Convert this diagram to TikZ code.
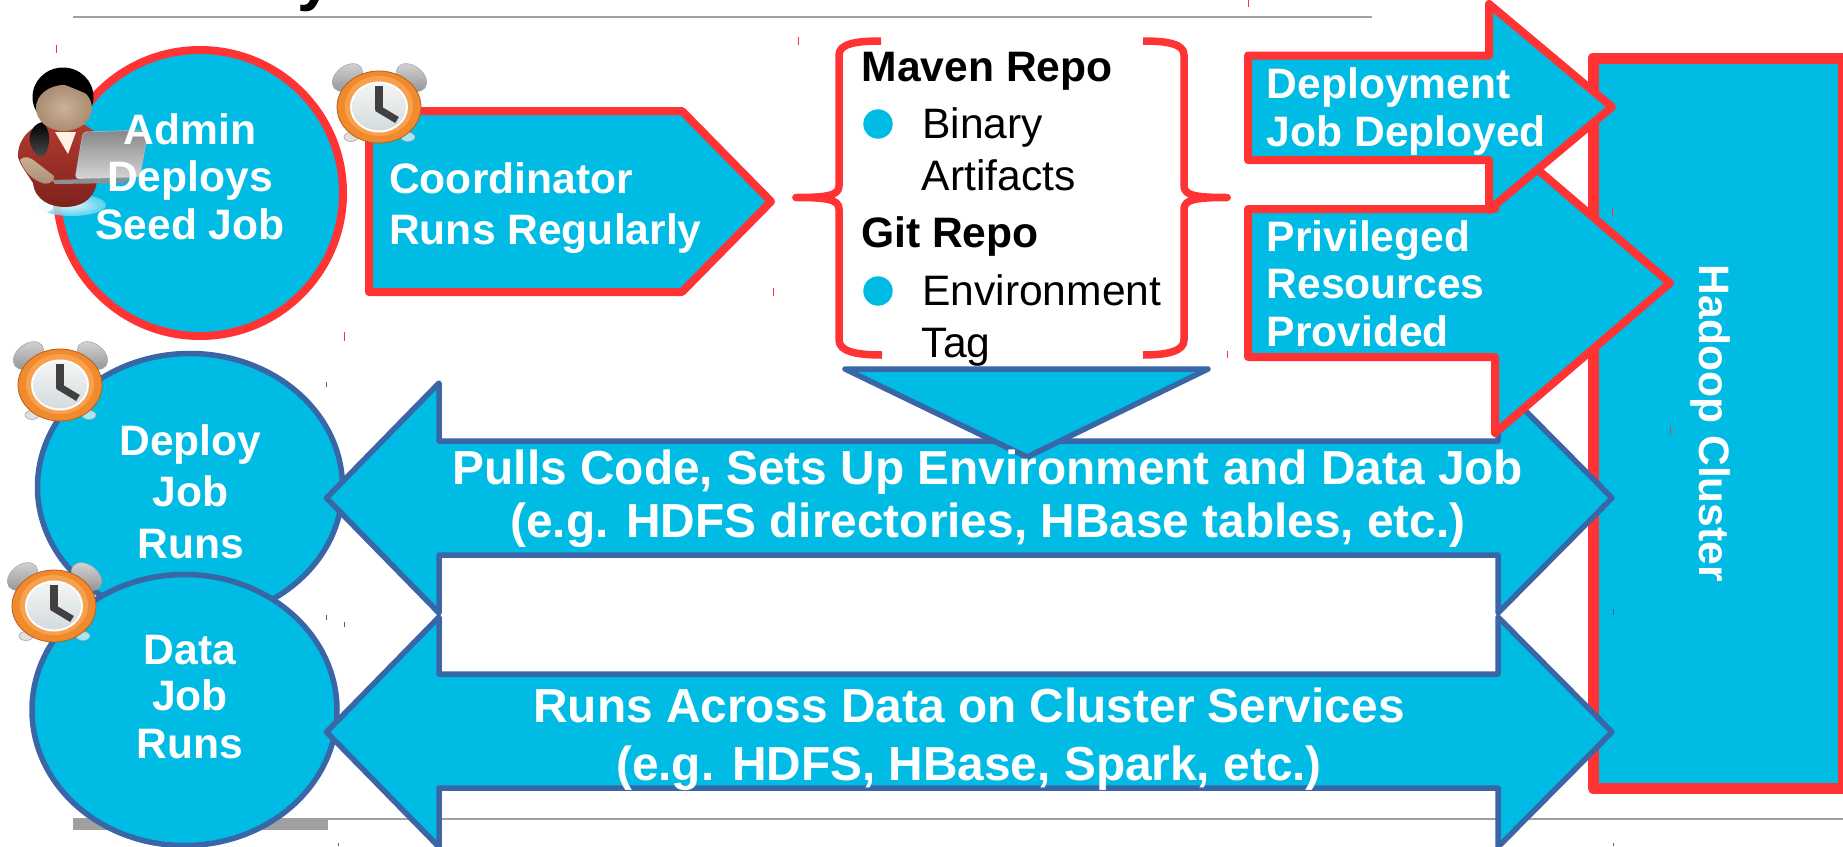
\documentclass[tikz,border=0pt]{standalone}
\usepackage{fontspec}
\setmainfont{Liberation Sans}
\definecolor{cy}{HTML}{00BBE4}
\definecolor{rd}{HTML}{FF3333}
\definecolor{bl}{HTML}{3866A6}
\definecolor{gr}{HTML}{A0A0A0}
\definecolor{skin}{HTML}{CBB196}
\definecolor{skindark}{HTML}{A98D72}
\definecolor{shirt}{HTML}{B23A30}
\definecolor{shirtdark}{HTML}{7E221C}
\definecolor{lap}{HTML}{B4B4B6}
\definecolor{clockor}{HTML}{F08A2C}
\definecolor{clocklt}{HTML}{F7A14E}
\definecolor{clockdk}{HTML}{B4601C}
\definecolor{bellg}{HTML}{B8B8B8}
\tikzset{
  cyanred/.style={fill=cy,draw=rd,line join=round},
  cyanblue/.style={fill=cy,draw=bl,line width=5.5pt,line join=round},
  whitetxt/.style={text=white,inner sep=0pt,font=\fontsize{42.6}{47.5}\selectfont\bfseries,align=center,anchor=base},
  blocktxt/.style={text=white,inner sep=0pt,font=\fontsize{42.6}{47.5}\selectfont\bfseries,align=left,anchor=base west},
  listhead/.style={text=black,inner sep=0pt,font=\fontsize{42.6}{50}\selectfont\bfseries,anchor=base west},
  listitem/.style={text=black,inner sep=0pt,font=\fontsize{42.6}{50}\selectfont,anchor=base west},
  rtick/.style={draw=rd,line width=1pt},
  btick/.style={draw=bl,line width=1pt},
  clockicon/.pic={
    \shade[top color=bellg!60!white,bottom color=bellg!80!black,draw=gray!70,line width=.6pt,rotate around={38:(-31.5,-29.5)}] (-31.5,-29.5) ellipse [x radius=17,y radius=11.5];
    \shade[top color=bellg!60!white,bottom color=bellg!80!black,draw=gray!70,line width=.6pt,rotate around={-38:(32.5,-29.5)}] (32.5,-29.5) ellipse [x radius=17,y radius=11.5];
    \fill[gray!25,draw=gray!70,line width=.6pt] (-28,30) ellipse [x radius=7,y radius=4.5];
    \fill[cy!35!white,draw=gray!70,line width=.6pt] (29,30) ellipse [x radius=7,y radius=4.5];
    \fill[draw=clockdk,line width=.8pt,fill=clockor] (0,0) ellipse [x radius=42,y radius=36];
    \fill[clocklt] (0,-1) ellipse [x radius=34,y radius=30];
    \fill[white] (0,0) ellipse [x radius=29,y radius=25.5];
    \shade[top color=gray!8,bottom color=cy!15!gray!30] (0,0) ellipse [x radius=27,y radius=23.5];
    \draw[black!75,line width=8pt] (0,-21) -- (0,3);
    \draw[black!75,line width=7pt] (-2,1) -- (18,13);
  }
}
\begin{document}
\begin{tikzpicture}[x=1pt,y=-1pt,line cap=butt]
\useasboundingbox (0,0) rectangle (1843,846);
% slide chrome
\node[inner sep=0pt,anchor=base west,text=black,font=\fontsize{64}{64}\selectfont\bfseries] (titlefrag) at (297,-1.5) {y};
\draw[gr,line width=2pt] (73,16.5) -- (1372,16.5);
\draw[gr,line width=2pt] (73,819) -- (1843,819);
\fill[gr] (73,819) rectangle (328,830);

% Hadoop cluster
\draw[cyanred,line width=11pt] (1593,58) rectangle (1843,788);
\node[whitetxt,rotate=-90,anchor=base] (hadoop) at (1699,423.5) {Hadoop Cluster};

% admin circle
\draw[cyanred,line width=8pt] (200,193) circle [radius=143];
% person
\shade[inner color=white,outer color=cy!60!white,opacity=.85] (72,205) ellipse [x radius=34,y radius=11];
\fill[white,opacity=.9] (25,207) ellipse [x radius=28,y radius=9];
\path[shade,top color=shirt,bottom color=shirtdark]
  (40,125) .. controls (25,130) and (17,145) .. (18,157) .. controls (20,165) and (28,175) .. (33,183)
  .. controls (35,200) and (50,207) .. (65,207) .. controls (85,207) and (97,195) .. (97,178) -- (100,135) -- (85,125) -- cycle;
\fill[white!90!orange] (55,132) -- (68,154) -- (76,132) -- cycle;
\path[shade,top color=black,bottom color=black!70] (42,122) .. controls (30,125) and (26,140) .. (33,150) .. controls (37,157) and (42,158) .. (45,155) .. controls (50,145) and (52,130) .. (42,122) -- cycle;
\shade[top color=skin,bottom color=skindark] (20,160) .. controls (25,155) and (30,157) .. (36,162) -- (54,176) .. controls (55,183) and (45,186) .. (40,182) .. controls (30,178) and (24,170) .. (20,160) -- cycle;
\fill[black] (63,97) ellipse [x radius=30.5,y radius=29.5];
\shade[inner color=skin,outer color=skindark] (64,108) ellipse [x radius=28,y radius=23];
\fill[black] (58,82) .. controls (70,87) and (84,92) .. (93,97) .. controls (92,85) and (80,75) .. (65,76) -- cycle;
\path[shade,top color=lap!75!black,bottom color=lap!55!white,draw=gray!50,line width=.5pt,rounded corners=4pt] (83,132) -- (148,130) -- (140,177) -- (75,179) -- cycle;
\fill[lap!80!black] (52,180) -- (130,178) -- (125,183) -- (55,184) -- cycle;
\node[whitetxt] (admintxt) at (190,239) {Admin\\Deploys\\Seed Job};

% clock + coordinator
\draw[cyanred,line width=8pt] (369,111) -- (682,111) -- (771,201.5) -- (682,292) -- (369,292) -- cycle;
\pic at (379,107) {clockicon};
\node[blocktxt] (coordtxt) at (389,244) {Coordinator\\[3.5pt]Runs Regularly};

% braces
\draw[rd,line width=7.5pt,line join=round] (881,41) .. controls (855,41) and (839,44) .. (839,55) -- (839,186) .. controls (839,196) and (825,197.5) .. (796,197.5) .. controls (825,197.5) and (839,199) .. (839,209) -- (839,340) .. controls (839,351) and (855,355) .. (882,355);
\draw[rd,line width=7.5pt,line join=round] (1143,41) .. controls (1168,41) and (1184,44) .. (1184,55) -- (1184,186) .. controls (1184,196) and (1198,197.5) .. (1227,197.5) .. controls (1198,197.5) and (1184,199) .. (1184,209) -- (1184,340) .. controls (1184,351) and (1168,355) .. (1143,355);
\draw[rd,line width=7.5pt,line cap=round] (796,197.5) -- (800,197.5) (1223,197.5) -- (1227,197.5);
\node[listhead] (maven) at (861.5,81) {Maven Repo};
\fill[cy] (878,124) circle [radius=14.7];
\node[listitem] (binary) at (922,138) {Binary};
\node[listitem] (artifacts) at (921.5,190) {Artifacts};
\node[listhead] (gitrepo) at (861,247) {Git Repo};
\fill[cy] (878,291) circle [radius=14.7];
\node[listitem] (envir) at (922,305) {Environment};
\node[listitem] (tagtxt) at (921.5,357) {Tag};

% deploy job
\draw[cyanblue] (190,487) ellipse [x radius=152.5,y radius=133.5];
\pic at (60,385) {clockicon};
\node[whitetxt] (deploytxt) at (190.5,455) {Deploy};
\node[whitetxt] (deployjob) at (190.5,506) {Job};
\node[whitetxt] (deployruns) at (190.5,558) {Runs};

% data job
\draw[cyanblue] (184.5,710) ellipse [x radius=152.5,y radius=135.5];
\pic at (54,606) {clockicon};
\node[whitetxt] (datatxt) at (190,664) {Data};
\node[whitetxt] (datajob) at (190,710) {Job};
\node[whitetxt] (dataruns) at (190,758.5) {Runs};

% double arrows
\draw[cyanblue] (326.5,498) -- (439,383) -- (439,441) -- (1498,441) -- (1498,383) -- (1612,498) -- (1498,613) -- (1498,555) -- (439,555) -- (439,613) -- cycle;
\draw[cyanblue] (326.5,732) -- (439,617) -- (439,674) -- (1498,674) -- (1498,617) -- (1612,732) -- (1498,847) -- (1498,788) -- (439,788) -- (439,847) -- cycle;

% privileged & deployment arrows
\draw[cyanred,line width=8pt] (1248,209) -- (1495,209) -- (1495,133) -- (1670,283) -- (1495,433) -- (1495,357) -- (1248,357) -- cycle;
\draw[cyanred,line width=8pt] (1248,55.5) -- (1489,55.5) -- (1489,4) -- (1612,107) -- (1489,210) -- (1489,160) -- (1248,160) -- cycle;
\node[blocktxt] (deploymenttxt) at (1266.5,146) {Deployment\\Job Deployed};
\node[blocktxt] (privtxt) at (1266.5,346) {Privileged\\Resources\\Provided};

% down triangle
\draw[cyanblue] (845,369) -- (1208,369) -- (1027,457) -- cycle;

\node[whitetxt,font=\fontsize{47.8}{53.7}\selectfont\bfseries] (pulltxt) at (988,537.7) {Pulls Code, Sets Up Environment and Data Job\\(e.g. HDFS directories, HBase tables, etc.)};
\node[whitetxt,font=\fontsize{47.8}{58}\selectfont\bfseries] (runstxt) at (969,780) {Runs Across Data on Cluster Services\\(e.g. HDFS, HBase, Spark, etc.)};

% stray ticks
\foreach \x/\a/\b in {56.7/45/53,344/332/341,798/37/45,773/288/296,1248/0/7,1227/351/358,1612.5/208/217,1670/427/435}
  \draw[rtick] (\x,\a) -- (\x,\b);
\foreach \x/\a/\b in {326/382/387,326/615/620,344/622/627,338/843/846,1613/609/615,1613/843/846}
  \draw[btick] (\x,\a) -- (\x,\b);
\end{tikzpicture}
\end{document}
